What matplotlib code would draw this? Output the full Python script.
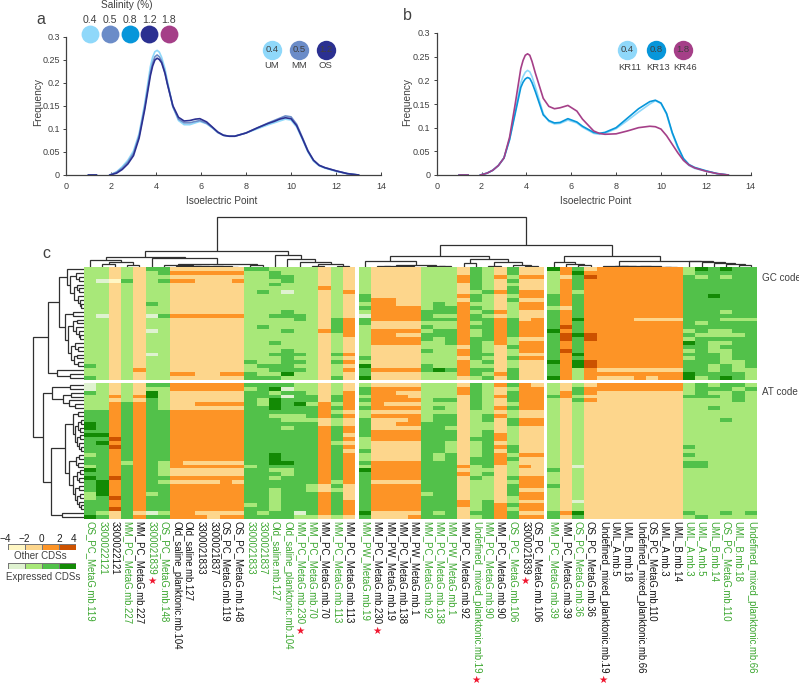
import numpy as np
import matplotlib
matplotlib.use('Agg')
import matplotlib.pyplot as plt
from matplotlib.colors import ListedColormap

plt.rcParams['font.family'] = ['Liberation Sans', 'DejaVu Sans']

W, H = 799, 684

# panel a, b density curves
x_a = [1, 1.35, np.nan, 1.95, 2.25, 2.5, 2.75, 3, 3.25, 3.5, 3.75, 3.85, 3.95, 4.05, 4.15, 4.25, 4.4, 4.5, 4.75, 5, 5.25, 5.5, 5.75, 5.95,
       6.25, 6.5, 6.75, 7, 7.25, 7.5, 8, 8.5, 9, 9.25, 9.5, 9.75, 10, 10.25, 10.5, 10.75, 11, 11.25, 11.5, 12, 12.5, 13]
um = [0, 0, np.nan, 0, .007, .018, .032, .052, .09, .155, .235, .255, .267, .27, .266, .255, .23, .205, .148, .118, .109, .109, .113, .116,
      .111, .102, .092, .086, .084, .084, .091, .1, .109, .113, .117, .121, .119, .104, .078, .05, .03, .02, .015, .008, .003, 0]
mm = [0, 0, np.nan, 0, .006, .015, .028, .047, .085, .148, .222, .243, .256, .26, .256, .247, .222, .2, .148, .121, .113, .113, .116, .118,
      .112, .103, .092, .086, .084, .084, .091, .102, .113, .118, .123, .128, .126, .11, .082, .053, .032, .021, .016, .009, .003, 0]
os_ = [0, 0, np.nan, 0, .004, .012, .024, .042, .08, .142, .215, .236, .249, .253, .25, .243, .22, .198, .15, .125, .117, .118, .121, .122,
       .115, .104, .093, .086, .084, .084, .091, .102, .112, .116, .121, .124, .122, .107, .08, .052, .032, .021, .016, .009, .003, 0]

x_b = [1, 1.4, np.nan, 1.95, 2.25, 2.5, 2.75, 3, 3.25, 3.5, 3.75, 3.85, 3.95, 4.05, 4.15, 4.25, 4.4, 4.5, 4.75, 5, 5.25, 5.5, 5.85,
       6.25, 6.5, 7, 7.25, 7.5, 8, 8.5, 9, 9.5, 9.75, 10, 10.25, 10.5, 10.75, 11, 11.25, 11.5, 12, 12.5, 13]
kr11 = [0, 0, np.nan, 0, .004, .01, .02, .036, .075, .135, .195, .208, .217, .221, .218, .208, .186, .17, .13, .113, .108, .109, .116,
        .11, .101, .088, .086, .088, .098, .115, .133, .15, .157, .151, .128, .088, .057, .032, .02, .014, .008, .003, 0]
kr13 = [0, 0, np.nan, 0, .004, .01, .02, .036, .075, .13, .185, .196, .203, .206, .204, .195, .176, .162, .127, .115, .11, .111, .119,
        .112, .103, .09, .088, .09, .1, .12, .14, .155, .158, .152, .13, .09, .06, .035, .022, .016, .009, .003, 0]
kr46 = [0, 0, np.nan, 0, .004, .01, .02, .036, .08, .15, .225, .242, .253, .256, .253, .24, .215, .2, .162, .145, .14, .142, .147,
        .135, .118, .093, .088, .086, .087, .093, .1, .103, .102, .097, .083, .065, .047, .031, .021, .015, .008, .003, 0]

x_ticks = [0, 2, 4, 6, 8, 10, 12, 14]
y_ticks = [0, .05, .1, .15, .2, .25, .3]
y_tick_labels = ['0', '0.05', '0.1', '0.15', '0.2', '0.25', '0.3']

salinity = ['0.4', '0.5', '0.8', '1.2', '1.8']
sal_colors = ['#8fd8fa', '#6b8cc8', '#0796da', '#2b3091', '#a53f88']

# heatmap columns, first token is the column's main colour, the rest are cells that differ
# a-d expressed CDSs light to dark, w-z other CDSs light to dark
gc_cols = ["b c25 c28", "b a3 a12", "x w3", "b c3", "x y26", "b c0 c9 a12 a16 a22", "b c0-1 c3 c12",
           "x y1 y3 y12 y27", "x y1 y3 y12 y27", "x y1 y12", "x y1 y12", "x y1 y12 y27", "x y1 y3 y12 y27",
           "b c0 c24 c27-28", "b c0 c6 c15 c25 c28", "b c1-2 c4 c12 c19 c22 c25-26 c28",
           "b c2-3 a6 c11-12 c16 c21-26 d27", "b c12-13 c22 c24 c26", "b", "x y5 y16",
           "b c13-16 c22 c24 c28", "x y6 y13-17 y22 y24 y26",
           "b c7-8 c10 a12 c13-14 c23 d25 c26-27 d28", "x y8-13 y16-19 y26", "x y8-13 y16-19 y26",
           "x y10-13 y16 y18-19 y26", "x y10-13 y16 y18-19 y26", "b c11-13 c15 c17-18 c21 c25-26",
           "b c9-11 c13 c16-17 d26", "b c10-11 c13 c16-19 c26", "x y2-3 y7 y9-19 y21-22 y24-27",
           "c b6 b9 b11 b14 b16-17 b24-25 b28", "b c6 c11 c13-18 c22 c24 c26 c28", "x y2 y6 y11 y13-19 y27",
           "b c0-1 c3 c5-6 c8 c13-17 c20 c23 c26-28", "x y2 y6-7 y9-10 y14-17 y19-21 y23",
           "x y2 y6-7 y9-10 y13-17 y19-21 y23", "c d0 b1-6 b10 d16 d24 d28", "y x2 x10 z15 z17-18 z21",
           "c d1 b6 d13 d17 d22 d24-25 b26-28", "y x0 z2 z17-18 z24-25", "y x26 x28", "y x26 x28", "y x26 x28",
           "y x13 x26", "y x13 x26 x28", "y x13 x26", "y x13 x26", "c b0-1 b16 b18 d19 b21 b23 d27-28",
           "c d0 b2 b14 b17 b28", "c d7 b16-17 b19-21 b25-26", "c d0 b2 b11 b13 b16-17 b19 b21-24 d28",
           "c b13 b17 b24-26", "c b13 b26-28"]
at_cols = ["c a0-1 b3-6 d10-11 d13 b18 b21 d22 d24 b28-29 d34", "c b0-6 d13 d15 d25-28 b33",
           "y x0-2 x4 z14 z16 z24 z29 z32 x33-34", "c b0-4 b20", "y x0-2 x4 x33", "c b1 d2-3 b28 a33",
           "c b1-6 b20-23 b25 b33", "y x2-6 x22-23 x25", "y x2-6 x20 x22-23 x25",
           "y x2-4 x6 x20 x22-23 x25 x33", "y x2-4 x6 x20 x22-23 x25 x33-34", "y x2-4 x6 x20 x22-23 x33",
           "y x2-4 x6 x20 x22-23 x25 x33", "c b1 b21 b31", "c b4-5 b33", "c d1 b2 d4-6 b8 d18-20 b22 b24 b27-32",
           "c a1 a3 b8-9 b11 d20 b22-23", "c b0-1 d5 b8-9 a33 b34", "c b0-2 b5 b9 b26-27 b34",
           "y x0-4 x9-10 x26-27 x34", "c b0-2 b5 b7 b9-10 b15 b25 b27 b34", "y x0-1 x7 x9-10 x13 x15 x17 x26-29 x34",
           "c b0 b3 b5 b7-8 b14-16 b18-19 b21 d22 d33", "y x0 x7 x9-11 x15-19 x25 x33-34",
           "y x0 x5 x7 x9-11 x15-19 x25 x33-34", "y x0 x2 x5 x7 x9 x11 x15-19 x25 x33-34",
           "y x0 x2-3 x5 x7 x11 x15-19 x25 x33", "c b0-9 b28", "c b0-3 b5 b7 b18-19 b33", "c b0-3 b5-7 b11 b15-17",
           "x y1-2 y21 y23 y30-31", "b c0-6 c14 c19-20 c24 c33", "b c8-9 c12-21 c23 c30-34",
           "x y0 y3 y6 y8 y13-14 y16 y18-20 y31-34", "b c0 c2-4 c6 c9-10 c16-17 c19 c24 c26-28 c31 c33-34",
           "x y0-6 y9-10 y18 y21 y24-26 y28-29 y31-32 y34", "x y1-6 y9-10 y18 y24-26 y28-29 y31-32 y34",
           "b c3 c22 c26 c33-34", "x y2-3 y33", "b c1-2 c4 a21 a30 d33 c34", "x y1-2 y4", "x y0-1", "x y0-1", "x y0-1",
           "x y0-1", "x y0-1", "x y0-1", "x y0-1", "b c3 c16 c18 c20-21 c33", "b c0-3 c20-21 c34", "b c1 c3 c6",
           "b c0-1 c9 c33", "b c0 c2-4", "b c1 c33"]

levels = 'abcdwxyz'
green_levels = ['#dff2d0', '#a8e879', '#52c14a', '#138a05']
orange_levels = ['#fff7c4', '#fdd68c', '#fd9426', '#cc5200']

col_names = ['OS_PC_MetaG.mb.119', '3300022121', '3300022121', 'MM_PC_MetaG.mb.227', 'MM_PC_MetaG.mb.227',
             '3300021839', 'OS_PC_MetaG.mb.148', 'Old_saline_planktonic.mb.104', 'Old_saline.mb.127', '3300021833',
             '3300021837', 'OS_PC_MetaG.mb.119', 'OS_PC_MetaG.mb.148', '3300021833', '3300021837', 'Old_saline.mb.127',
             'Old_saline_planktonic.mb.104', 'MM_PC_MetaG.mb.230', 'MM_PC_MetaG.mb.70', 'MM_PC_MetaG.mb.70',
             'MM_PC_MetaG.mb.113', 'MM_PC_MetaG.mb.113', 'MM_PW_MetaG.mb.19', 'MM_PC_MetaG.mb.230', 'MM_PW_MetaG.mb.19',
             'MM_PC_MetaG.mb.138', 'MM_PW_MetaG.mb.1', 'MM_PC_MetaG.mb.92', 'MM_PC_MetaG.mb.138', 'MM_PW_MetaG.mb.1',
             'MM_PC_MetaG.mb.92', 'Undefined_mixed_planktonic.mb.19', 'MM_PC_MetaG.mb.90', 'MM_PC_MetaG.mb.90',
             'OS_PC_MetaG.mb.106', '3300021839', 'OS_PC_MetaG.mb.106', 'MM_PC_MetaG.mb.39', 'MM_PC_MetaG.mb.39',
             'OS_PC_MetaG.mb.36', 'OS_PC_MetaG.mb.36', 'Undefined_mixed_planktonic.mb.19', 'UML_A.mb.5', 'UML_B.mb.18',
             'Undefined_mixed_planktonic.mb.66', 'OS_PC_MetaG.mb.110', 'UML_A.mb.3', 'UML_B.mb.14', 'UML_A.mb.3',
             'UML_A.mb.5', 'UML_B.mb.14', 'OS_PC_MetaG.mb.110', 'UML_B.mb.18', 'Undefined_mixed_planktonic.mb.66']
green_cols = [0, 1, 3, 5, 6, 13, 14, 15, 16, 17, 18, 20, 22, 27, 28, 29, 31, 32, 34, 37, 39, 48, 49, 50, 51, 52, 53]
star_cols = [5, 17, 23, 31, 35, 41]

# dendrograms as (merge height, child, child), a plain int is a leaf
top_left = (16,
            (10,
             (7, 0, (5, (3, 1, 2), (2.5, 3, 4))),
             (9, 5, (3.5, (2, 6, (1, 7, (.8, (.6, 8, 9), (.6, 10, (.4, 11, 12))))), (2, 13, 14)))),
            (12, 15, (8, 16, (5, 17, (3, (1.5, 18, 19), (1.5, 20, 21))))))
top_right = (22,
             (11,
              (6.3, 22, (2, (1, (.7, 23, 24), (.7, 25, 26)), (1, 27, (.8, 28, 29)))),
              (8, (4, 30, 31), (5.3, (1.5, 32, 33), (2, 34, (1, 35, 36))))),
             (11,
              (5.3, 37, (3, 38, (2, 39, 40))),
              (6.3, (1, 41, (.8, (.6, 42, 43), (.6, 44, (.5, 45, (.4, 46, 47))))),
               (5.7, 48, (5, 49, (4.3, 50, (3.5, 51, (2.5, 52, 53))))))))
gc_tree = (36,
           (24.7,
            (17.3, 0, (14, (8, 1, (5, 2, 3)), (10, (7, 4, (5, 5, 6)), (6, 7, (4, 8, (3, 9, 10)))))),
            (19, (11, 11, 12),
             (16, (11, (7, 13, 14), (8, 15, (5, 16, (4, 17, 18)))),
              (13, (9, 19, (6, 20, 21)), (10, (7, 22, 23), (6, 24, 25)))))),
           (27, 26, (14, 27, 28)))
at_tree = (41,
           (32.3, (14, 0, 1), (21, (13, 2, 3), (15, 4, (9, 5, 6)))),
           (33.3,
            (19,
             (10.7, (6, 7, 8), (9.5, (6, (3, 9, 10), (4, 11, 12)), (7, (4, 13, 14), (5, 15, (3, 16, 17))))),
             (15, (8, (5, 18, 19), (6, 20, 21)),
              (11, (7, (4, 22, 23), (5, 24, 25)), (9, (5, 26, 27), (7, (4, 28, 29), (5, 30, (3, 31, 32))))))),
            (22, 33, 34)))
top_root = 50
left_root = 50.7

cbar_ticks = ['\u22124', '\u22122', '0', '2', '4']


def px_axes(left, top, right, bottom, **kw):
    return fig.add_axes([left / W, 1 - bottom / H, (right - left) / W, (bottom - top) / H], **kw)


def expand(cols, n_rows):
    out = np.zeros((n_rows, len(cols)), dtype=int)
    for j, spec in enumerate(cols):
        tokens = spec.split()
        out[:, j] = levels.index(tokens[0])
        for t in tokens[1:]:
            rows = t[1:].split('-')
            out[int(rows[0]):int(rows[-1]) + 1, j] = levels.index(t[0])
    return out


def draw_tree(ax, node, pos, vertical=True):
    # returns position and height of a node
    if not isinstance(node, tuple):
        return pos[node], 0
    h, left, right = node
    p1, h1 = draw_tree(ax, left, pos, vertical)
    p2, h2 = draw_tree(ax, right, pos, vertical)
    join(ax, p1, h1, p2, h2, h, vertical)
    return (p1 + p2) / 2, h


def join(ax, p1, h1, p2, h2, h, vertical):
    a, b = [p1, p1, p2, p2], [h1, h, h, h2]
    if not vertical:
        a, b = b, a
    ax.plot(a, b, color='#303030', lw=0.9, solid_capstyle='butt', solid_joinstyle='miter')


def density_panel(box, x, curves, colors):
    ax = px_axes(*box)
    for y, c in zip(curves, colors):
        ax.plot(x, y, color=c, lw=1.2)
    ax.set_xlim(0, 14)
    ax.set_ylim(0, .3)
    ax.set_xticks(x_ticks)
    ax.set_yticks(y_ticks)
    ax.set_yticklabels(y_tick_labels)
    ax.tick_params(labelsize=6.5, colors='#404040', length=2.5, width=0.7, pad=2)
    ax.tick_params(axis='x', direction='in', pad=5)
    for s in ['top', 'right']:
        ax.spines[s].set_visible(False)
    for s in ['left', 'bottom']:
        ax.spines[s].set_color('#404040')
        ax.spines[s].set_linewidth(0.9)
    return ax


fig = plt.figure(figsize=(W / 100, H / 100), dpi=100)

density_panel((66, 36.5, 381, 175), x_a, [um, mm, os_], [sal_colors[0], sal_colors[1], sal_colors[3]])
density_panel((436.7, 33, 750.7, 175), x_b, [kr11, kr13, kr46], [sal_colors[0], sal_colors[2], sal_colors[4]])

# heatmap
gc = expand(gc_cols, 29)
at = expand(at_cols, 35)
cmap = ListedColormap(green_levels + orange_levels)
col_blocks = [(0, 22), (22, 37), (37, 54)]
col_gap = .3
row_gap = .8
ax = px_axes(84, 267, 757, 519)
col_x = np.zeros(54)
for k, (c0, c1) in enumerate(col_blocks):
    col_x[c0:c1] = np.arange(c0, c1) + .5 + k * col_gap
    edges_x = np.arange(c1 - c0 + 1) + c0 + k * col_gap
    ax.pcolormesh(edges_x, np.arange(30), gc[:, c0:c1], cmap=cmap, vmin=-.5, vmax=7.5)
    ax.pcolormesh(edges_x, np.arange(36) + 29 + row_gap, at[:, c0:c1], cmap=cmap, vmin=-.5, vmax=7.5)
ax.set_xlim(0, 54 + 2 * col_gap)
ax.set_ylim(64 + row_gap, 0)
ax.set_yticks([])
ax.set_xticks(col_x)
ax.set_xticklabels(col_names, rotation=270, ha='center', va='top', fontsize=6.95)
ax.tick_params(axis='x', length=0, pad=1.5)
for s in ax.spines.values():
    s.set_visible(False)
for i, t in enumerate(ax.get_xticklabels()):
    t.set_color('#3aa62e' if i in green_cols else '#111111')
    if i in star_cols:
        ax.annotate('\u2605', xy=(.5, 0), xycoords=t, xytext=(0, -4.5), textcoords='offset points',
                    ha='center', va='center', color='#f0162f', fontsize=7.5)

# column dendrogram
ax_top = px_axes(84, 210, 757, 267)
ax_top.set_xlim(0, 54 + 2 * col_gap)
ax_top.set_ylim(0, 57)
p1, h1 = draw_tree(ax_top, top_left, col_x)
p2, h2 = draw_tree(ax_top, top_right, col_x)
join(ax_top, p1, h1, p2, h2, top_root, True)
ax_top.axis('off')

# row dendrogram
ax_left = px_axes(28, 267, 84, 519)
ax_left.set_xlim(56, 0)
ax_left.set_ylim(64 + row_gap, 0)
gc_y = np.arange(29) + .5
at_y = np.arange(35) + 29.5 + row_gap
p1, h1 = draw_tree(ax_left, gc_tree, gc_y, False)
p2, h2 = draw_tree(ax_left, at_tree, at_y, False)
join(ax_left, p1, h1, p2, h2, left_root, False)
ax_left.axis('off')

# colour keys
for top, colors in [(544.3, orange_levels), (563.3, green_levels)]:
    ax_key = px_axes(8.3, top, 76, top + 5.4)
    ax_key.pcolormesh(np.arange(5), [0, 1], [[0, 1, 2, 3]], cmap=ListedColormap(colors), edgecolors='#777777', linewidth=0.4)
    ax_key.axis('off')

# everything placed by pixel
ov = px_axes(0, 0, W, H)
ov.set_xlim(0, W)
ov.set_ylim(H, 0)
ov.axis('off')
ov.patch.set_alpha(0)


def label(x, y, s, size=7.3, color='#404040', **kw):
    ov.text(x, y, s, fontsize=size, color=color, ha=kw.pop('ha', 'center'), va='center', **kw)


label(127, 5, 'Salinity (%)')
label(41, 20, 'a', 11.5)
label(407, 16, 'b', 11.5)
label(46, 254, 'c', 11.5)
for x, s, c in zip([90, 110, 129.7, 149.3, 169], salinity, sal_colors):
    ov.scatter(x, 34, s=165, color=c, lw=0)
    label(x, 20, s, 7.6)
for x, s, c, name in zip([272, 299, 325.7], ['0.4', '0.5', '1.2'], [sal_colors[0], sal_colors[1], sal_colors[3]], ['UM', 'MM', 'OS']):
    ov.scatter(x, 50, s=195, color=c, lw=0)
    label(x, 50, s, 6.8)
    label(x, 66, name, 6.8)
for x, s, c, name in zip([627, 655.7, 682.7], ['0.4', '0.8', '1.8'], [sal_colors[0], sal_colors[2], sal_colors[4]], ['KR11', 'KR13', 'KR46']):
    ov.scatter(x, 50, s=195, color=c, lw=0)
    label(x, 50, s, 6.8)
    label(x + 2.5, 67, name, 6.8)
label(222, 201, 'Isoelectric Point')
label(596, 201.5, 'Isoelectric Point')
label(38, 102, 'Frequency', rotation=90)
label(407, 102, 'Frequency', rotation=90)
label(761.5, 277.7, 'GC code', 7.1, ha='left')
label(761.5, 392.3, 'AT code', 7.1, ha='left')
for x, s in zip([5.7, 24, 41.7, 59, 74], cbar_ticks):
    label(x, 539, s, 7.2, '#222222')
label(40.7, 555.7, 'Other CDSs', 7)
label(43.3, 576.7, 'Expressed CDSs', 7)

fig.savefig('out.png', dpi=100)
